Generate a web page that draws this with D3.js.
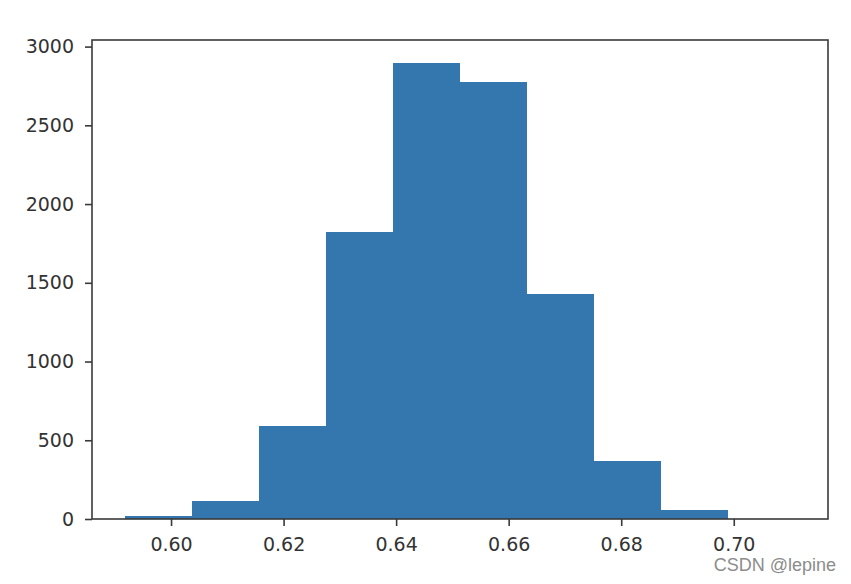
<!DOCTYPE html>
<html>
<head>
<meta charset="utf-8">
<script src="https://cdn.jsdelivr.net/npm/d3@7"></script>
<style>
  html, body { margin: 0; padding: 0; background: #fff; }
  svg { display: block; }
</style>
</head>
<body>
<svg id="chart" width="851" height="584"></svg>
<script>
// Histogram bin edges (x values) and counts per bin
const binEdges = [0.5919, 0.6038, 0.6157, 0.6276, 0.6395, 0.6514, 0.6632, 0.6751, 0.6870, 0.6989, 0.7108];
const binCounts = [19, 116, 590, 1823, 2897, 2774, 1430, 371, 58, 1];
const xTicks = [0.60, 0.62, 0.64, 0.66, 0.68, 0.70];
const yTicks = [0, 500, 1000, 1500, 2000, 2500, 3000];
const watermark = "CSDN @lepine";

const svg = d3.select("#chart");
const m = { left: 92, top: 40, right: 828, bottom: 519 };

const xMin = binEdges[0], xMax = binEdges[binEdges.length - 1];
const xPad = (xMax - xMin) * 0.05;
const x = d3.scaleLinear().domain([xMin - xPad, xMax + xPad]).range([m.left, m.right]);
const y = d3.scaleLinear().domain([0, d3.max(binCounts) * 1.05]).range([m.bottom, m.top]);

const bins = binCounts.map((c, i) => ({ x0: binEdges[i], x1: binEdges[i + 1], c }));

svg.append("g").attr("shape-rendering", "crispEdges")
  .selectAll("rect").data(bins).join("rect")
  .attr("x", d => Math.round(x(d.x0)))
  .attr("width", d => Math.round(x(d.x1)) - Math.round(x(d.x0)))
  .attr("y", d => y(d.c))
  .attr("height", d => y(0) - y(d.c))
  .attr("fill", "#3476ae");

// frame (spines)
svg.append("rect")
  .attr("x", m.left).attr("y", m.top)
  .attr("width", m.right - m.left).attr("height", m.bottom - m.top)
  .attr("fill", "none").attr("stroke", "#3a3a3a").attr("stroke-width", 1.6);

const font = "'DejaVu Sans', sans-serif";

const xAxis = svg.append("g").attr("transform", `translate(0,${m.bottom})`)
  .call(d3.axisBottom(x).tickValues(xTicks).tickFormat(d3.format(".2f")).tickSize(7).tickPadding(12).tickSizeOuter(0));
xAxis.select(".domain").remove();
xAxis.selectAll(".tick line").attr("stroke", "#3a3a3a").attr("stroke-width", 1.6);
xAxis.selectAll("text").attr("font-family", font).attr("font-size", 19).attr("fill", "#333");

const yAxis = svg.append("g").attr("transform", `translate(${m.left},0)`)
  .call(d3.axisLeft(y).tickValues(yTicks).tickFormat(d3.format("d")).tickSize(7).tickPadding(11).tickSizeOuter(0));
yAxis.select(".domain").remove();
yAxis.selectAll(".tick line").attr("stroke", "#3a3a3a").attr("stroke-width", 1.6);
yAxis.selectAll("text").attr("font-family", font).attr("font-size", 19).attr("fill", "#333");

svg.append("text")
  .attr("x", 836).attr("y", 571)
  .attr("text-anchor", "end")
  .attr("font-family", "'Liberation Sans', Arial, sans-serif")
  .attr("font-size", 18)
  .attr("fill", "#8c8c8c")
  .text(watermark);
</script>
</body>
</html>
